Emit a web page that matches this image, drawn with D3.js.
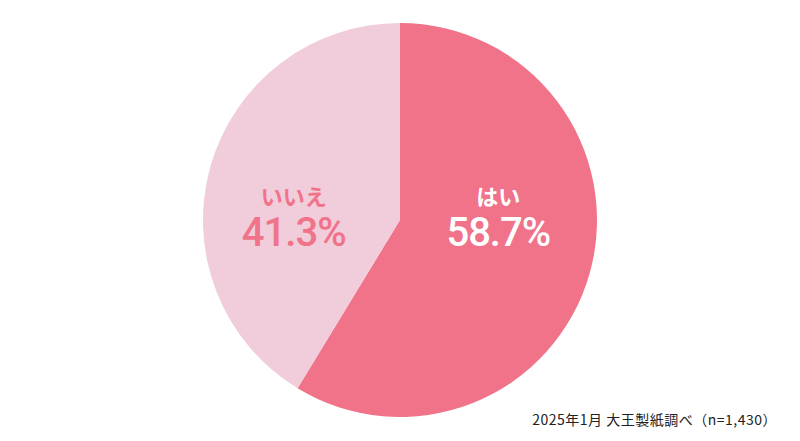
<!DOCTYPE html>
<html><head><meta charset="utf-8">
<script src="https://cdn.jsdelivr.net/npm/d3@7"></script>
<style>body{margin:0;background:#fff}svg{display:block}</style>
</head><body>
<svg id="c" width="800" height="441"></svg>
<script>
const categories = ["はい", "いいえ"];
const values = [58.7, 41.3];
const valueLabels = ["58.7%", "41.3%"];
const colors = ["#F07389", "#F1CCDA"];
const textColors = ["#FFFFFF", "#F07389"];
const footnote = "2025年1月 大王製紙調べ（n=1,430）";

const svg = d3.select("#c");
const cx = 400, cy = 220, r = 197;
const g = svg.append("g").attr("transform", `translate(${cx},${cy})`);
const pie = d3.pie().sort(null).value(d => d)(values);
const arc = d3.arc().innerRadius(0).outerRadius(r);
g.selectAll("path").data(pie).join("path").attr("d", arc).attr("fill", (d,i)=>colors[i]);

const labelArc = d3.arc().innerRadius(100).outerRadius(100);
const dx = [2, -10];
pie.forEach((d,i)=>{
  const x = labelArc.centroid(d)[0] + dx[i];
  g.append("text").attr("x", x).attr("y", -15).attr("text-anchor","middle")
    .attr("font-family","'Noto Sans CJK JP'").attr("font-weight",700).attr("font-size",22)
    .attr("fill",textColors[i]).text(categories[i]);
  g.append("text").attr("x", x).attr("y", 26).attr("text-anchor","middle")
    .attr("font-family","Roboto").attr("font-weight",500).attr("font-size",40)
    .attr("letter-spacing",-1)
    .attr("fill",textColors[i]).text(valueLabels[i]);
});

svg.append("text").attr("x", 777).attr("y", 425).attr("text-anchor","end")
  .attr("font-family","'Noto Sans CJK JP'").attr("font-size",14).attr("fill","#222")
  .attr("letter-spacing",0.5)
  .text(footnote);
</script>
</body></html>
